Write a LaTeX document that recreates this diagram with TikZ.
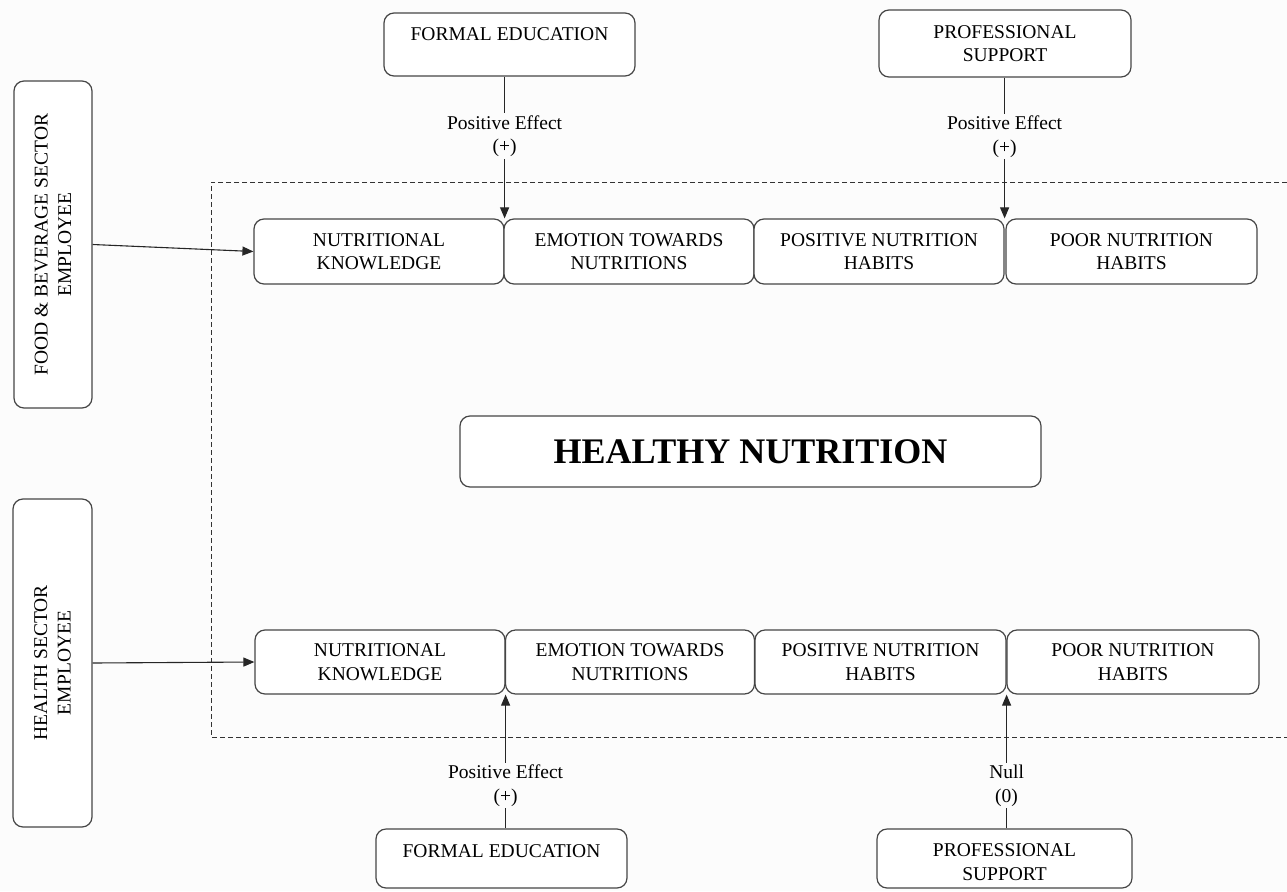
\documentclass[tikz,border=0pt]{standalone}
\usepackage{fontspec}
\setmainfont{Liberation Serif}
\usetikzlibrary{arrows.meta,calc}
\definecolor{edgecol}{RGB}{70,70,70}
\definecolor{bgcol}{RGB}{252,252,252}
\begin{document}
\begin{tikzpicture}[x=1pt,y=-1pt,
  font=\fontsize{19.5}{23.5}\selectfont,
  box/.style={draw=edgecol, line width=1.2pt, rounded corners=10pt, align=center, inner sep=0pt, fill=white},
  plain/.style={align=center, inner sep=0pt},
  lbl/.style={fill=bgcol, align=center, inner sep=2pt},
  conn/.style={draw=black!85, line width=1.1pt},
  arr/.style={conn, -{Triangle[length=11pt,width=9pt]}},
  frame/.style={draw=black!80, line width=1pt, dash pattern=on 5pt off 3pt}
]
\fill[bgcol] (0,0) rectangle (1287,891);
\useasboundingbox (0,0) rectangle (1287,891);

% dashed frame (open at the right edge)
\draw[frame] (1287,182) -| (211,737) -- (1287,737);

% left vertical boxes
\node[box, rotate=90, minimum width=327pt, minimum height=78pt] (food) at (53,244.5) {FOOD \& BEVERAGE SECTOR\\EMPLOYEE};
\node[box, rotate=90, minimum width=328pt, minimum height=79pt] (health) at (52.5,663) {HEALTH SECTOR\\EMPLOYEE};

% top source boxes
\node[box, minimum width=251pt, minimum height=63pt] (fea) at (509.5,44.5) {};
\node[plain] (feat) at (509.5,34) {FORMAL EDUCATION};
\node[box, minimum width=252pt, minimum height=67pt] (psa) at (1005,43.5) {PROFESSIONAL\\SUPPORT};

% bottom source boxes
\node[box, minimum width=251pt, minimum height=59pt] (feb) at (501.5,858.5) {};
\node[plain] (febt) at (501.5,851) {FORMAL EDUCATION};
\node[box, minimum width=255pt, minimum height=59pt] (psb) at (1004.5,858.5) {};
\node[plain] (psbt) at (1004.5,862) {PROFESSIONAL\\SUPPORT};

% top row
\node[box, minimum width=250pt, minimum height=65pt] (nka) at (379,251.5) {NUTRITIONAL\\KNOWLEDGE};
\node[box, minimum width=250pt, minimum height=65pt] (ema) at (629,251.5) {EMOTION TOWARDS\\NUTRITIONS};
\node[box, minimum width=250pt, minimum height=65pt] (poa) at (879,251.5) {POSITIVE NUTRITION\\HABITS};
\node[box, minimum width=251pt, minimum height=65pt] (pra) at (1131.5,251.5) {POOR NUTRITION\\HABITS};

% bottom row
\node[box, minimum width=250pt, minimum height=64pt] (nkb) at (380,662) {NUTRITIONAL\\KNOWLEDGE};
\node[box, minimum width=249pt, minimum height=64pt] (emb) at (630,662) {EMOTION TOWARDS\\NUTRITIONS};
\node[box, minimum width=251pt, minimum height=64pt] (pob) at (880.5,662) {POSITIVE NUTRITION\\HABITS};
\node[box, minimum width=252pt, minimum height=64pt] (prb) at (1133,662) {POOR NUTRITION\\HABITS};

% centre title
\node[box, minimum width=581pt, minimum height=71pt, font=\fontsize{36}{40}\selectfont\bfseries] (hn) at (750.5,451.5) {HEALTHY NUTRITION};

% connectors
\draw[arr] (food.south) -- (nka.west);
\draw[arr] (health.south) -- (nkb.west);

\draw[arr] (fea.south -| nka.north east) -- node[lbl, pos=0.42] (la) {Positive Effect\\(+)} (nka.north east);
\draw[arr] (psa.south -| poa.north east) -- node[lbl, pos=0.42] (lb) {Positive Effect\\(+)} (poa.north east);
\draw[arr] (feb.north -| nkb.south east) -- node[lbl, pos=0.32] (lc) {Positive Effect\\(+)} (nkb.south east);
\draw[arr] (psb.north -| pob.south east) -- node[lbl, pos=0.32] (ld) {Null\\(0)} (pob.south east);
\end{tikzpicture}
\end{document}
